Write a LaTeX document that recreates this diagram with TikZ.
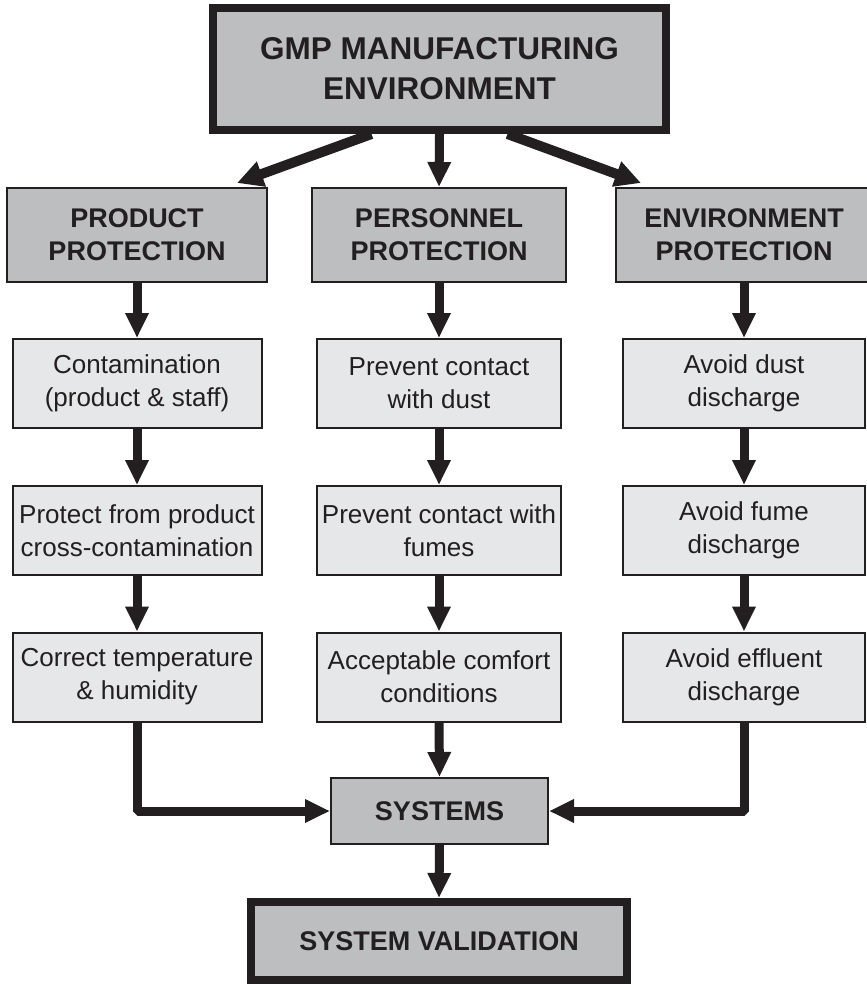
\documentclass[tikz,border=0pt]{standalone}
\usepackage{fontspec}
\setmainfont{Liberation Sans}
\usetikzlibrary{arrows.meta,calc}
\definecolor{ink}{HTML}{231F20}
\definecolor{darkfill}{HTML}{BCBEC0}
\definecolor{lightfill}{HTML}{E6E7E8}
\begin{document}
\begin{tikzpicture}[x=1pt,y=-1pt,
  topbox/.style={draw=ink, line width=8pt, fill=darkfill, minimum width=453pt, minimum height=122pt,
    font=\bfseries\fontsize{31.5}{40}\selectfont, align=center, inner sep=0pt, text=ink},
  headbox/.style={draw=ink, line width=2pt, fill=darkfill, minimum height=94pt,
    font=\bfseries\fontsize{27}{33}\selectfont, align=center, inner sep=0pt, text=ink},
  itembox/.style={draw=ink, line width=2pt, fill=lightfill, minimum height=89pt,
    font=\fontsize{26}{33}\selectfont, align=center, inner sep=0pt, text=ink},
  flow/.style={draw=ink, line width=9pt, line join=bevel, -{Triangle[length=25pt,width=22pt]}},
  diagflow/.style={draw=ink, line width=10pt, -{Triangle[length=26pt,width=25pt]}},
]
\useasboundingbox (0,0) rectangle (867,985);

% top
\node[topbox] (top) at (439.5,69) {GMP MANUFACTURING\\ENVIRONMENT};

% level 2
\node[headbox, minimum width=260pt] (prod) at (137,235) {PRODUCT\\PROTECTION};
\node[headbox, minimum width=254pt] (pers) at (439,235) {PERSONNEL\\PROTECTION};
\node[headbox, minimum width=256pt] (env) at (744,235) {ENVIRONMENT\\PROTECTION};

% left column
\node[itembox, minimum width=249pt] (a1) at (137,383.5) {Contamination\\(product \& staff)};
\node[itembox, minimum width=249pt] (a2) at (137,530.5) {Protect from product\\cross-contamination};
\node[itembox, minimum width=249pt] (a3) at (137,677) {Correct temperature\\\& humidity};

% middle column
\node[itembox, minimum width=244pt] (b1) at (439,383.5) {Prevent contact\\with dust};
\node[itembox, minimum width=244pt] (b2) at (439,530.5) {Prevent contact with\\fumes};
\node[itembox, minimum width=244pt] (b3) at (439,677) {Acceptable comfort\\conditions};

% right column
\node[itembox, minimum width=242pt] (c1) at (744,383.5) {Avoid dust\\discharge};
\node[itembox, minimum width=242pt] (c2) at (744,530.5) {Avoid fume\\discharge};
\node[itembox, minimum width=242pt] (c3) at (744,677) {Avoid effluent\\discharge};

% systems
\node[headbox, minimum width=217pt, minimum height=66pt] (sys) at (439.5,811) {SYSTEMS};
\node[topbox, minimum width=376pt, minimum height=78pt, font=\bfseries\fontsize{27}{33}\selectfont] (val) at (439,941) {SYSTEM VALIDATION};

% connectors from top
\draw[diagflow] ($(top.south)+(-68,0)$) -- ($(prod.north east)+(-31,-4)$);
\draw[flow] (top.south) -- (pers.north);
\draw[diagflow] ($(top.south)+(68,0)$) -- ($(env.north west)+(26,-4)$);

% columns
\draw[flow] (prod.south) -- (a1.north);
\draw[flow] (a1.south) -- (a2.north);
\draw[flow] (a2.south) -- (a3.north);
\draw[flow] (pers.south) -- (b1.north);
\draw[flow] (b1.south) -- (b2.north);
\draw[flow] (b2.south) -- (b3.north);
\draw[flow] (env.south) -- (c1.north);
\draw[flow] (c1.south) -- (c2.north);
\draw[flow] (c2.south) -- (c3.north);

% to systems
\draw[flow] (a3.south) |- (sys.west);
\draw[flow] (b3.south) -- (sys.north);
\draw[flow] (c3.south) |- (sys.east);
\draw[flow] (sys.south) -- (val.north);
\end{tikzpicture}
\end{document}
